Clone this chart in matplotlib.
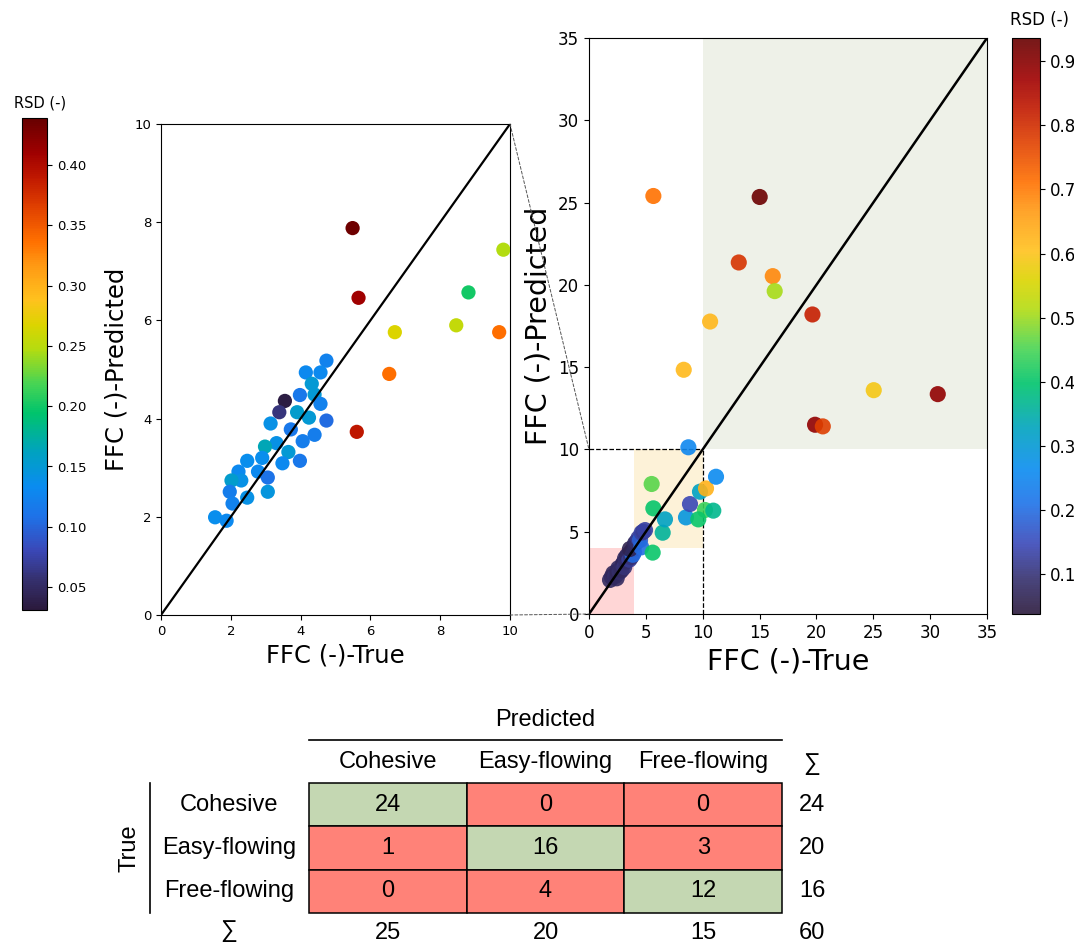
import numpy as np
import matplotlib

matplotlib.use("Agg")
import matplotlib.pyplot as plt
from matplotlib.colors import LinearSegmentedColormap
from matplotlib.patches import ConnectionPatch, Rectangle

# left panel: model A, FFC true vs predicted, colour = RSD
left_true = [5.49, 5.66, 9.81, 8.81, 6.70, 8.46, 9.69, 6.54, 5.61, 3.55, 3.39,
             4.74, 4.15, 4.57, 4.32, 3.98, 4.40, 4.57, 3.90, 4.24, 4.74, 3.14,
             3.72, 4.06, 4.40, 3.31, 2.98, 3.65, 3.98, 3.48, 2.90, 2.47, 2.78,
             2.22, 2.30, 2.02, 3.06, 1.97, 3.06, 2.05, 2.47, 1.55, 1.88]
left_pred = [7.88, 6.46, 7.44, 6.57, 5.76, 5.90, 5.76, 4.91, 3.73, 4.36, 4.13,
             5.18, 4.94, 4.94, 4.71, 4.48, 4.49, 4.30, 4.13, 4.02, 3.96, 3.90,
             3.78, 3.54, 3.67, 3.50, 3.43, 3.32, 3.14, 3.09, 3.20, 3.14, 2.92,
             2.92, 2.74, 2.74, 2.80, 2.51, 2.51, 2.27, 2.39, 1.99, 1.92]
left_rsd = [0.435, 0.41, 0.247, 0.20, 0.268, 0.255, 0.337, 0.337, 0.39, 0.035, 0.06,
            0.125, 0.13, 0.13, 0.15, 0.115, 0.15, 0.125, 0.155, 0.15, 0.105, 0.14,
            0.115, 0.12, 0.12, 0.14, 0.165, 0.15, 0.115, 0.13, 0.135, 0.135, 0.13,
            0.13, 0.14, 0.155, 0.11, 0.12, 0.145, 0.125, 0.14, 0.135, 0.13]
left_range = (0.031, 0.439)

# right panel: model B
right_true = [1.85, 2.00, 2.14, 2.30, 2.43, 2.50, 2.58, 2.70, 2.87, 2.95, 3.02, 3.10,
              3.17, 3.25, 3.35, 3.46, 3.55, 3.61, 3.70, 3.78, 3.85, 3.90, 3.95, 3.60,
              4.05, 4.19, 4.34, 4.49, 4.60, 4.63, 4.78, 4.93,
              5.60, 6.48, 6.68, 8.53, 8.88, 10.20, 9.61, 10.93, 5.66, 5.51,
              9.76, 10.29, 11.17, 8.74,
              5.66, 15.01, 13.17, 16.16, 16.33, 10.65, 19.65, 8.33, 25.04, 30.67,
              19.88, 20.56]
right_pred = [2.07, 2.25, 2.47, 2.30, 2.17, 2.60, 2.78, 2.55, 2.67, 3.00, 3.08, 2.85,
              3.38, 3.20, 3.55, 3.48, 3.30, 3.70, 3.45, 3.85, 3.60, 3.95, 3.75, 3.95,
              4.29, 4.39, 4.60, 4.50, 4.05, 4.94, 5.00, 5.10,
              3.73, 4.94, 5.75, 5.87, 6.68, 6.32, 5.75, 6.28, 6.42, 7.90,
              7.43, 7.63, 8.34, 10.13,
              25.40, 25.34, 21.36, 20.53, 19.62, 17.77, 18.20, 14.84, 13.60, 13.36,
              11.50, 11.40]
right_rsd = [0.08, 0.08, 0.07, 0.09, 0.08, 0.07, 0.08, 0.09, 0.08, 0.09, 0.07, 0.10,
             0.08, 0.09, 0.07, 0.08, 0.12, 0.08, 0.10, 0.08, 0.20, 0.09, 0.19, 0.06,
             0.08, 0.09, 0.12, 0.18, 0.20, 0.13, 0.12, 0.13,
             0.405, 0.36, 0.325, 0.29, 0.146, 0.44, 0.405, 0.37, 0.40, 0.46,
             0.325, 0.63, 0.26, 0.255,
             0.71, 0.93, 0.79, 0.685, 0.505, 0.62, 0.82, 0.615, 0.59, 0.89,
             0.89, 0.775]
right_range = (0.038, 0.936)

# confusion matrix (rows = true, cols = predicted)
classes = ["Cohesive", "Easy-flowing", "Free-flowing"]
confusion = np.array([[24, 0, 0],
                      [1, 16, 3],
                      [0, 4, 12]])

cmap = LinearSegmentedColormap.from_list("rsd", [
    (0.00, "#2b1a3d"), (0.06, "#35306e"), (0.12, "#3a48b8"), (0.19, "#1e72e8"),
    (0.25, "#0a8cf0"), (0.32, "#00a2c0"), (0.40, "#00c46c"), (0.46, "#48d454"),
    (0.53, "#b4dc10"), (0.58, "#dcd400"), (0.63, "#ffc21e"), (0.70, "#ff9a14"),
    (0.75, "#ff7000"), (0.82, "#e04000"), (0.88, "#c01800"), (0.93, "#a00000"),
    (1.00, "#680000")])

W, H = 1074, 946
fig = plt.figure(figsize=(W / 100, H / 100), dpi=100)


def px_axes(x0, y0, x1, y1):
    # pixel box (y down) -> figure axes
    return fig.add_axes([x0 / W, 1 - y1 / H, (x1 - x0) / W, (y1 - y0) / H])


# ---- left scatter
ax1 = px_axes(161, 124, 510, 615)
sc1 = ax1.scatter(left_true, left_pred, c=left_rsd, cmap=cmap, s=105,
                  vmin=left_range[0], vmax=left_range[1], linewidths=0, zorder=3)
ax1.plot([0, 10], [0, 10], color="black", lw=1.6, zorder=4)
ax1.set_xlim(0, 10)
ax1.set_ylim(0, 10)
ax1.set_xticks(np.arange(0, 11, 2))
ax1.set_yticks(np.arange(0, 11, 2))
ax1.tick_params(labelsize=9.5)
ax1.set_xlabel("FFC (-)-True", fontsize=17.5)
ax1.set_ylabel("FFC (-)-Predicted", fontsize=17.5)

cax1 = px_axes(22, 118, 47, 610)
cb1 = fig.colorbar(sc1, cax=cax1)
cb1.set_ticks(np.arange(0.05, 0.41, 0.05))
cb1.ax.tick_params(labelsize=9.5)
cb1.outline.set_linewidth(0.8)
fig.text(40 / W, 1 - 103 / H, "RSD (-)", fontsize=10.5, ha="center", va="center")

# ---- right scatter
ax2 = px_axes(589, 38, 987, 614)
ax2.add_patch(Rectangle((0, 0), 4, 4, facecolor="#ffd6d6", edgecolor="none", zorder=0))
ax2.add_patch(Rectangle((4, 4), 6, 6, facecolor="#fdf2d8", edgecolor="none", zorder=0))
ax2.add_patch(Rectangle((10, 10), 25, 25, facecolor="#eef1e8", edgecolor="none", zorder=0))
sc2 = ax2.scatter(right_true, right_pred, c=right_rsd, cmap=cmap, s=135, alpha=0.9,
                  vmin=right_range[0], vmax=right_range[1], linewidths=0, zorder=3)
ax2.plot([0, 35], [0, 35], color="black", lw=1.8, zorder=4)
ax2.plot([0, 10], [10, 10], color="black", lw=0.9, ls="--", zorder=2)
ax2.plot([10, 10], [0, 10], color="black", lw=0.9, ls="--", zorder=2)
ax2.set_xlim(0, 35)
ax2.set_ylim(0, 35)
ax2.set_xticks(np.arange(0, 36, 5))
ax2.set_yticks(np.arange(0, 36, 5))
ax2.tick_params(labelsize=12)
ax2.set_xlabel("FFC (-)-True", fontsize=20.5)
ax2.set_ylabel("FFC (-)-Predicted", fontsize=20.5)

cax2 = px_axes(1012, 38, 1040, 614)
cb2 = fig.colorbar(sc2, cax=cax2)
cb2.set_ticks(np.arange(0.1, 0.91, 0.1))
cb2.ax.tick_params(labelsize=12)
cb2.outline.set_linewidth(0.8)
fig.text(1040 / W, 1 - 20 / H, "RSD (-)", fontsize=12, ha="center", va="center")

# zoom connectors
for ya, yb in [(10, 10), (0, 0)]:
    con = ConnectionPatch(xyA=(10, ya), coordsA=ax1.transData,
                          xyB=(0, yb), coordsB=ax2.transData,
                          color="#555555", lw=0.7, ls=(0, (3, 2)))
    fig.add_artist(con)

# ---- confusion table, pixel coordinates
tab = fig.add_axes([0, 0, 1, 1], zorder=-1)
tab.set_xlim(0, W)
tab.set_ylim(H, 0)
tab.axis("off")
tfont = dict(family=["Liberation Sans", "DejaVu Sans"],
             fontsize=17, ha="center", va="center")

col_edges = np.linspace(309, 782, 4)
row_edges = np.linspace(783, 913, 4)
col_mid = (col_edges[:-1] + col_edges[1:]) / 2
row_mid = (row_edges[:-1] + row_edges[1:]) / 2
sum_x = 812
label_x = 229

tab.text(545, 720, "Predicted", **tfont)
tab.plot([309, 782], [740, 740], color="black", lw=1.2)
for j, name in enumerate(classes):
    tab.text(col_mid[j], 762, name, **tfont)
tab.text(sum_x, 764, "∑", **tfont)

for i, name in enumerate(classes):
    tab.text(label_x, row_mid[i], name, **tfont)
    for j in range(3):
        face = "#c4d7b2" if i == j else "#ff8278"
        tab.add_patch(Rectangle((col_edges[j], row_edges[i]),
                                col_edges[j + 1] - col_edges[j],
                                row_edges[i + 1] - row_edges[i],
                                facecolor=face, edgecolor="black", lw=1.1))
        tab.text(col_mid[j], row_mid[i], str(confusion[i, j]), **tfont)
    tab.text(sum_x, row_mid[i], str(confusion[i].sum()), **tfont)

tab.plot([150, 150], [783, 913], color="black", lw=1.2)
tab.text(130, 848, "True", rotation=90, **tfont)

tab.text(label_x, 931, "∑", **tfont)
for j in range(3):
    tab.text(col_mid[j], 933, str(confusion[:, j].sum()), **tfont)
tab.text(sum_x, 933, str(confusion.sum()), **tfont)

fig.savefig("out.png", dpi=100)
